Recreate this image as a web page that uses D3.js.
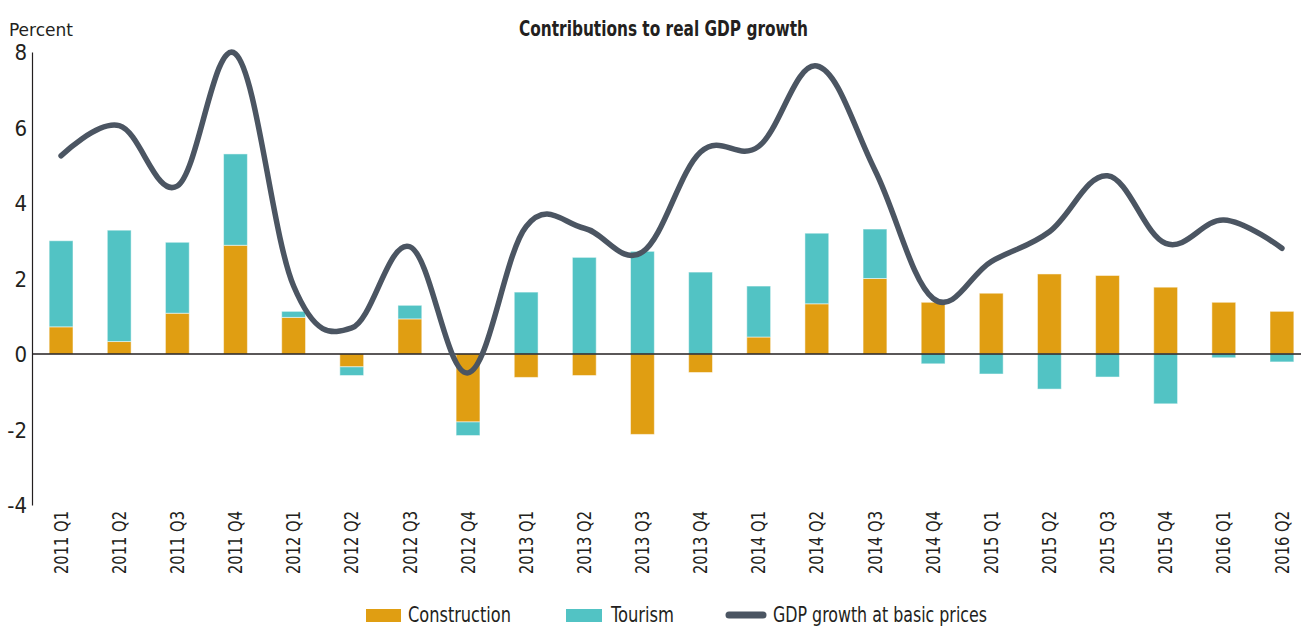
<!DOCTYPE html>
<html><head><meta charset="utf-8">
<script src="https://cdn.jsdelivr.net/npm/d3@7"></script>
<style>
body{margin:0;background:#fff;}
text{font-family:"DejaVu Sans Condensed","Liberation Sans Narrow",sans-serif;fill:#231f20;}
</style></head>
<body><svg id="c" width="1301" height="628"></svg>
<script>
const categories = ["2011 Q1","2011 Q2","2011 Q3","2011 Q4","2012 Q1","2012 Q2","2012 Q3","2012 Q4","2013 Q1","2013 Q2","2013 Q3","2013 Q4","2014 Q1","2014 Q2","2014 Q3","2014 Q4","2015 Q1","2015 Q2","2015 Q3","2015 Q4","2016 Q1","2016 Q2"];
const construction = [0.72,0.33,1.08,2.88,0.97,-0.34,0.93,-1.80,-0.62,-0.57,-2.13,-0.49,0.45,1.33,2.00,1.37,1.61,2.12,2.08,1.77,1.37,1.13];
const tourism = [2.28,2.95,1.88,2.42,0.16,-0.23,0.36,-0.36,1.64,2.56,2.72,2.17,1.35,1.87,1.31,-0.26,-0.53,-0.93,-0.61,-1.32,-0.10,-0.21];
const gdp = [5.25,6.05,4.45,7.95,1.8,0.69,2.84,-0.5,3.38,3.33,2.70,5.35,5.5,7.63,4.87,1.47,2.45,3.24,4.72,2.93,3.55,2.80];
const yTicks = [-4,-2,0,2,4,6,8];
const colors = {construction:"#e09e12", tourism:"#52c3c4", gdp:"#4b5562"};

const svg = d3.select("#c");
const x = d3.scaleBand().domain(categories).range([32,1311]).paddingInner(0.59).paddingOuter(0.295);
const y = d3.scaleLinear().domain([-4,8]).range([505,52]);

// stacked bars: positive and negative stacking separately
const bars = [];
categories.forEach((c,i)=>{
  let pos=0, neg=0;
  [["construction",construction[i]],["tourism",tourism[i]]].forEach(([k,v])=>{
    let y0,y1;
    if(v>=0){y0=pos;y1=pos+v;pos=y1;}else{y0=neg;y1=neg+v;neg=y1;}
    bars.push({c,k,y0,y1});
  });
});
svg.append("g").selectAll("rect").data(bars).join("rect")
  .attr("x",d=>x(d.c)).attr("width",x.bandwidth())
  .attr("y",d=>y(Math.max(d.y0,d.y1))).attr("height",d=>Math.abs(y(d.y0)-y(d.y1)))
  .attr("fill",d=>colors[d.k]).attr("stroke","#ffffff").attr("stroke-opacity",0.5).attr("stroke-width",1);

// y axis
const ya = svg.append("g").attr("transform","translate(32,0)")
  .call(d3.axisLeft(y).tickValues(yTicks).tickSize(0).tickPadding(5).tickFormat(d=>String(d)));
ya.select(".domain").attr("stroke","#231f20").attr("stroke-width",1.2);
ya.selectAll("text").style("font-size","22px").attr("dy","0.35em");

// zero line
svg.append("line").attr("x1",32).attr("x2",1301).attr("y1",y(0)).attr("y2",y(0))
  .attr("stroke","#231f20").attr("stroke-width",1.5);

// x labels
const xa = svg.append("g").attr("transform","translate(0,505)")
  .call(d3.axisBottom(x).tickSize(0).tickPadding(0));
xa.select(".domain").remove();
xa.selectAll("text").style("font-size","19px")
  .attr("transform","rotate(-90)").attr("text-anchor","end")
  .attr("x",-6).attr("y",0).attr("dy","0.35em")
  .attr("textLength",63).attr("lengthAdjust","spacingAndGlyphs");

// GDP line
const line = d3.line().x((d,i)=>x(categories[i])+x.bandwidth()/2).y(d=>y(d)).curve(d3.curveCardinal.tension(-0.1));
svg.append("path").datum(gdp).attr("d",line).attr("fill","none")
  .attr("stroke",colors.gdp).attr("stroke-width",5.5).attr("stroke-linecap","round").attr("stroke-linejoin","round");

// title & unit
svg.append("text").attr("x",519).attr("y",36)
  .style("font-size","21px").style("font-weight","bold")
  .attr("textLength",289).attr("lengthAdjust","spacingAndGlyphs").text("Contributions to real GDP growth");
svg.append("text").attr("x",9).attr("y",36).style("font-size","18px")
  .attr("textLength",64).attr("lengthAdjust","spacingAndGlyphs").text("Percent");

// legend
const lg = svg.append("g");
lg.append("rect").attr("x",366).attr("y",609).attr("width",35).attr("height",13).attr("fill",colors.construction);
lg.append("text").attr("x",408).attr("y",622).style("font-size","21px")
  .attr("textLength",103).attr("lengthAdjust","spacingAndGlyphs").text("Construction");
lg.append("rect").attr("x",566).attr("y",609).attr("width",36).attr("height",13).attr("fill",colors.tourism);
lg.append("text").attr("x",611).attr("y",622).style("font-size","21px")
  .attr("textLength",63).attr("lengthAdjust","spacingAndGlyphs").text("Tourism");
lg.append("line").attr("x1",729).attr("x2",763).attr("y1",615).attr("y2",615)
  .attr("stroke",colors.gdp).attr("stroke-width",7).attr("stroke-linecap","round");
lg.append("text").attr("x",773).attr("y",622).style("font-size","21px")
  .attr("textLength",214).attr("lengthAdjust","spacingAndGlyphs").text("GDP growth at basic prices");
</script></body></html>
